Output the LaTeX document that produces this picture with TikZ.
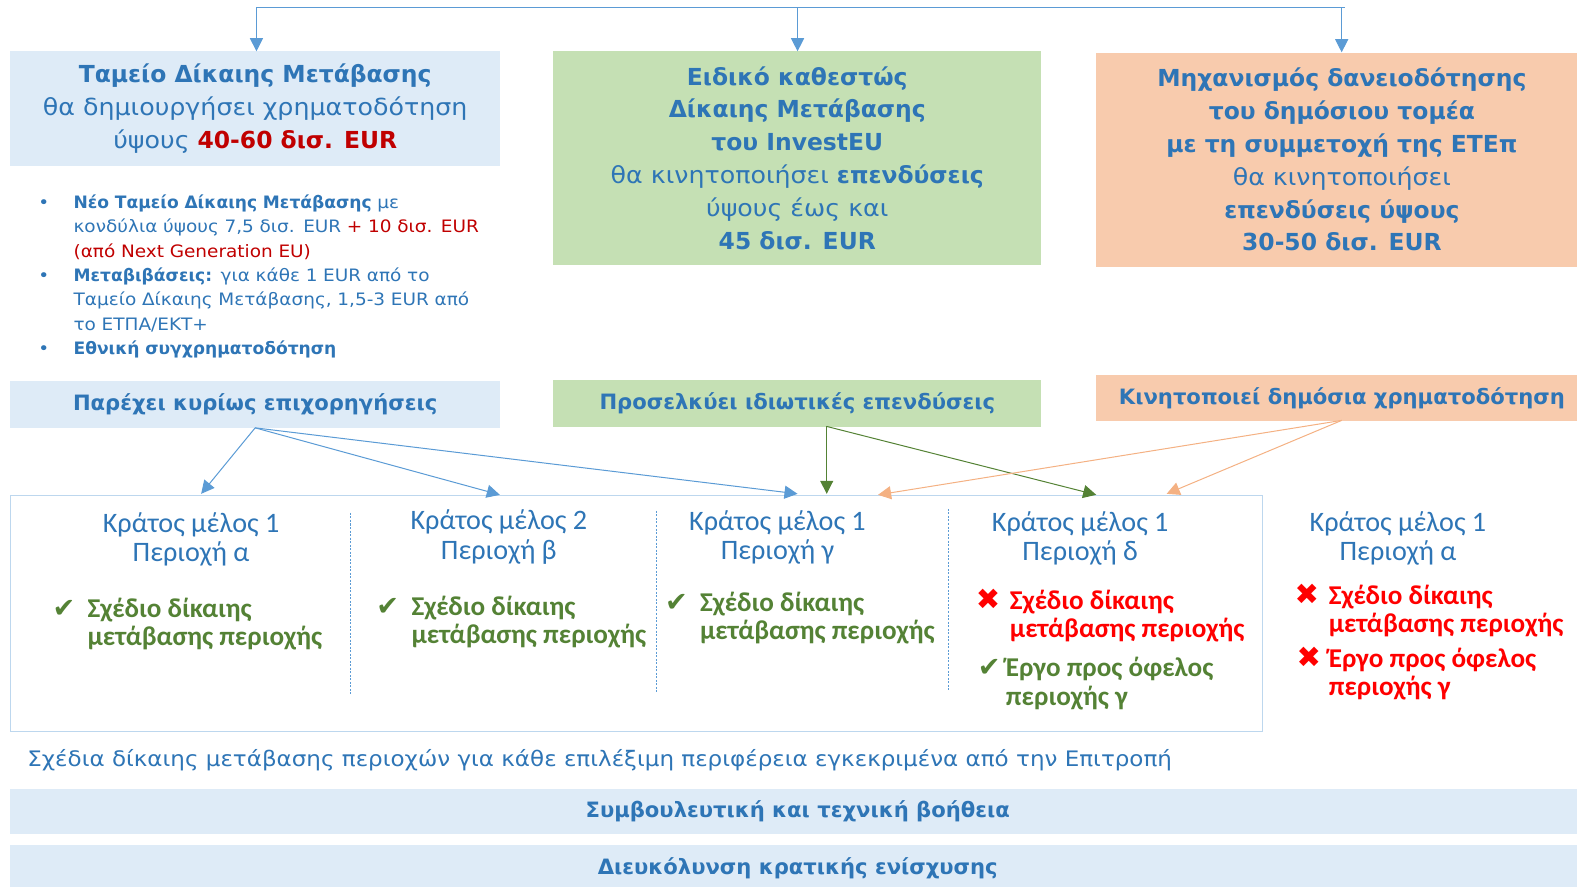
\documentclass[tikz,border=0pt]{standalone}
\usepackage{fontspec}
\setmainfont{DejaVu Sans}[UprightFeatures={FakeStretch=1.08}]
\newfontfamily\calfont{Carlito}
\newfontfamily\symfont{DejaVu Sans}
\usetikzlibrary{arrows.meta}
\usetikzlibrary{positioning}

\definecolor{titleblue}{HTML}{2E75B6}
\definecolor{arrowblue}{HTML}{5B9BD5}
\definecolor{paleblue}{HTML}{DEEBF7}
\definecolor{palegreen}{HTML}{C5E0B4}
\definecolor{paleorange}{HTML}{F8CBAD}
\definecolor{darkred}{HTML}{C00000}
\definecolor{leafgreen}{HTML}{548235}
\definecolor{peach}{HTML}{F4B183}
\definecolor{framecol}{HTML}{BDD7EE}

\tikzset{
  fundbox/.style={anchor=north west, inner sep=0pt, align=center, text=titleblue,
    font=\fontsize{23.3}{32.7}\selectfont},
  rolebox/.style={anchor=north west, inner sep=0pt, align=center, text=titleblue,
    minimum height=46pt, font=\bfseries\fontsize{21}{24}\selectfont},
  banner/.style={anchor=north west, inner sep=0pt, fill=paleblue, text=titleblue,
    minimum width=1566pt, font=\bfseries\fontsize{21}{24}\selectfont},
  notes/.style={anchor=base west, inner sep=0pt, text width=470pt, text=titleblue,
    font=\fontsize{17}{24.3}\selectfont},
  region/.style={inner sep=0pt, align=center, text=titleblue,
    font=\calfont\fontsize{28}{29}\selectfont},
  verdict/.style={anchor=base west, inner sep=0pt,
    font=\calfont\bfseries\fontsize{27}{28}\selectfont},
  blueflow/.style={draw=arrowblue, line width=1pt, -{Triangle[length=13pt,width=13pt]}},
  greenflow/.style={draw=leafgreen, line width=1pt, -{Triangle[length=13pt,width=13pt]}},
  peachflow/.style={draw=peach, line width=1pt, -{Triangle[length=13pt,width=13pt]}},
  divider/.style={draw=arrowblue, line width=0.8pt, dash pattern=on 2pt off 1.5pt}
}

\newcommand{\okmark}{{\symfont\fontsize{27}{27}\selectfont\textcolor{leafgreen}{✔}}}
\newcommand{\nomark}{{\symfont\fontsize{29}{29}\selectfont\textcolor{red}{✖}}}

\begin{document}
\begin{tikzpicture}[x=1pt,y=-1pt]
\useasboundingbox (0,0) rectangle (1568,881);

\node[fundbox, fill=paleblue, minimum width=487pt, minimum height=114pt] (jtf) at (10,51)
  {\textbf{Ταμείο Δίκαιης Μετάβασης}\\θα δημιουργήσει χρηματοδότηση\\ύψους \textcolor{darkred}{\textbf{40-60 δισ. EUR}}};
\node[fundbox, fill=palegreen, minimum width=485pt, minimum height=212pt] (investeu) at (550,51)
  {\textbf{Ειδικό καθεστώς}\\\textbf{Δίκαιης Μετάβασης}\\\textbf{του InvestEU}\\θα κινητοποιήσει \textbf{επενδύσεις}\\ύψους έως και\\\textbf{45 δισ. EUR}};
\node[fundbox, fill=paleorange, minimum width=488pt, minimum height=213pt] (loans) at (1090,52)
  {\textbf{Μηχανισμός δανειοδότησης}\\\textbf{του δημόσιου τομέα}\\\textbf{με τη συμμετοχή της ΕΤΕπ}\\θα κινητοποιήσει\\\textbf{επενδύσεις ύψους}\\\textbf{30-50 δισ. EUR}};

\coordinate (top1) at (255,7);
\coordinate (top2) at (793,7);
\coordinate (top3) at (1334,7);
\coordinate (topend) at (1337,7);
\draw[draw=arrowblue, line width=1pt] (top1) -- (topend);
\draw[blueflow] (top1) -- (top1 |- jtf.north);
\draw[blueflow] (top2) -- (top2 |- investeu.north);
\draw[blueflow] (top3) -- (top3 |- loans.north);

\node[notes] (notes) at (38,207) {%
  \hangindent=35pt\hangafter=1\makebox[35pt][l]{\textbullet}\textbf{Νέο Ταμείο Δίκαιης Μετάβασης} με\newline
  κονδύλια ύψους 7,5 δισ. EUR \textcolor{darkred}{+ 10 δισ. EUR}\newline
  \textcolor{darkred}{(από Next Generation EU)}\par
  \hangindent=35pt\hangafter=1\makebox[35pt][l]{\textbullet}\textbf{Μεταβιβάσεις:} για κάθε 1 EUR από το\newline
  Ταμείο Δίκαιης Μετάβασης, 1,5-3 EUR από\newline
  το ΕΤΠΑ/ΕΚΤ+\par
  \hangindent=35pt\hangafter=1\makebox[35pt][l]{\textbullet}\textbf{Εθνική συγχρηματοδότηση}};

\node[rolebox, fill=paleblue, minimum width=487pt] (grants) at (10,379) {Παρέχει κυρίως επιχορηγήσεις};
\node[rolebox, fill=palegreen, minimum width=485pt] (private) at (550,378) {Προσελκύει ιδιωτικές επενδύσεις};
\node[rolebox, fill=paleorange, minimum width=488pt, minimum height=45pt] (public) at (1090,373) {Κινητοποιεί δημόσια χρηματοδότηση};

\node[draw=framecol, line width=1pt, anchor=north west, inner sep=0pt,
  minimum width=1245pt, minimum height=235pt] (regions) at (10,492) {};
\draw[divider] (348,510) -- (348,692);
\draw[divider] (653,508) -- (653,690);
\draw[divider] (943,506) -- (943,688);

\node[region] (r1) at (190,536) {Κράτος μέλος 1\\Περιοχή α};
\node[region] (r2) at (496,534) {Κράτος μέλος 2\\Περιοχή β};
\node[region] (r3) at (773,534) {Κράτος μέλος 1\\Περιοχή γ};
\node[region] (r4) at (1074,535) {Κράτος μέλος 1\\Περιοχή δ};
\node[region] (r5) at (1390,535) {Κράτος μέλος 1\\Περιοχή α};

\node[verdict, text=leafgreen] (v1) at (52,614)
  {\begin{tabular}[t]{@{}l@{}l@{}}\makebox[35pt][l]{\okmark}&Σχέδιο δίκαιης\\&μετάβασης περιοχής\end{tabular}};
\node[verdict, text=leafgreen] (v2) at (374,612)
  {\begin{tabular}[t]{@{}l@{}l@{}}\makebox[35pt][l]{\okmark}&Σχέδιο δίκαιης\\&μετάβασης περιοχής\end{tabular}};
\node[verdict, text=leafgreen] (v3) at (661,608)
  {\begin{tabular}[t]{@{}l@{}l@{}}\makebox[35pt][l]{\okmark}&Σχέδιο δίκαιης\\&μετάβασης περιοχής\end{tabular}};
\node[verdict, text=red] (v4) at (970,606)
  {\begin{tabular}[t]{@{}l@{}l@{}}\makebox[34pt][l]{\nomark}&Σχέδιο δίκαιης\\&μετάβασης περιοχής\end{tabular}};
\node[verdict, text=leafgreen] (v4b) at (972,673)
  {\begin{tabular}[t]{@{}l@{}l@{}}\makebox[28pt][l]{\okmark}&Έργο προς όφελος\\&περιοχής γ\end{tabular}};
\node[verdict, text=red] (v5) at (1287,601)
  {\begin{tabular}[t]{@{}l@{}l@{}}\makebox[34pt][l]{\nomark}&Σχέδιο δίκαιης\\&μετάβασης περιοχής\end{tabular}};
\node[verdict, text=red] (v5b) at (1289,664)
  {\begin{tabular}[t]{@{}l@{}l@{}}\makebox[32pt][l]{\nomark}&Έργο προς όφελος\\&περιοχής γ\end{tabular}};

\coordinate (gsrc) at (822,424);
\coordinate (psrc) at (1334,418);
\coordinate (a1) at (200,491);
\coordinate (a2) at (497,492);
\coordinate (a3) at (793,491);
\coordinate (g1) at (822,491);
\coordinate (g2) at (1090,492);
\coordinate (p1) at (873,492);
\coordinate (p2) at (1160,491);
\draw[blueflow] (grants.south) -- (a1);
\draw[blueflow] (grants.south) -- (a2);
\draw[blueflow] (grants.south) -- (a3);
\draw[greenflow] (gsrc) -- (g1);
\draw[greenflow] (gsrc) -- (g2);
\draw[peachflow] (psrc) -- (p1);
\draw[peachflow] (psrc) -- (p2);

\node[anchor=west, inner sep=0pt, text=titleblue, font=\fontsize{21.2}{24}\selectfont] (plans) at (27,756)
  {Σχέδια δίκαιης μετάβασης περιοχών για κάθε επιλέξιμη περιφέρεια εγκεκριμένα από την Επιτροπή};
\node[banner, minimum height=45pt] (advice) at (10,784) {Συμβουλευτική και τεχνική βοήθεια};
\node[banner, minimum height=46pt] (stateaid) at (10,840) {Διευκόλυνση κρατικής ενίσχυσης};
\end{tikzpicture}
\end{document}
